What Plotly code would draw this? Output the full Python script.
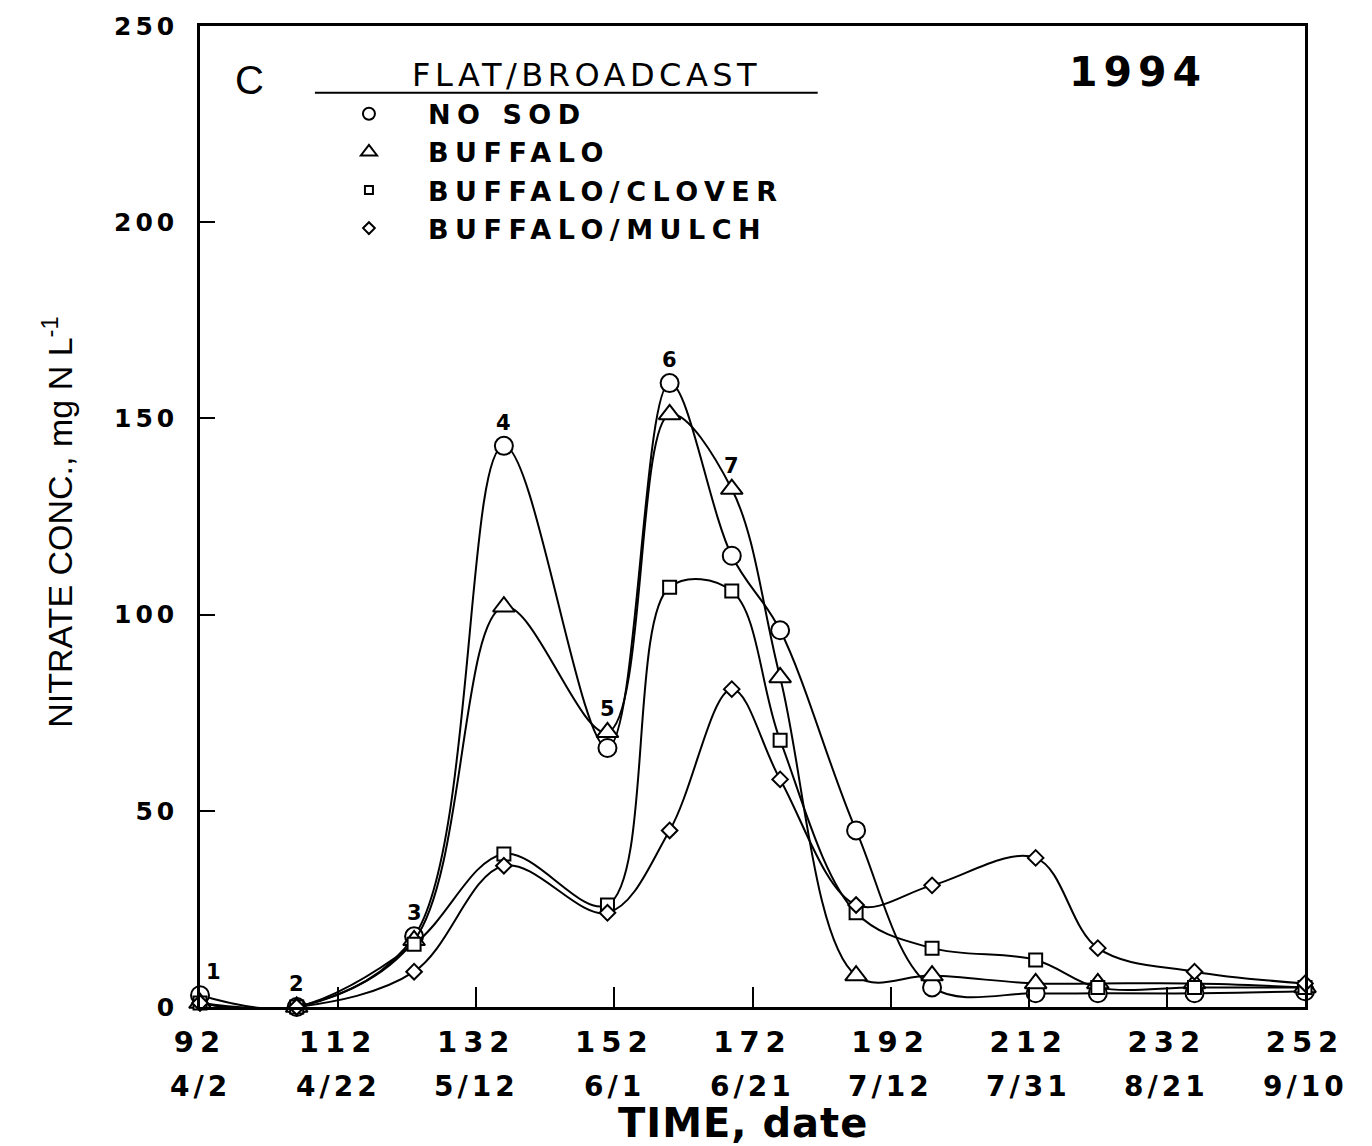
import plotly.graph_objects as go

# ---------------- data ----------------
days = [92, 106, 123, 136, 151, 160, 169, 176, 187, 198, 213, 222, 236, 252]
no_sod = [3, 0, 18, 143, 66, 159, 115, 96, 45, 5, 3.5, 3.5, 3.5, 4]
buffalo = [1, 0, 17, 102, 70, 151, 132, 84, 8, 8, 6, 6, 6, 5]
buffalo_clover = [1, 0, 16, 39, 26, 107, 106, 68, 24, 15, 12, 5, 5, 5]
buffalo_mulch = [1, 0, 9, 36, 24, 45, 81, 58, 26, 31, 38, 15, 9, 6]
series_names = ["NO SOD", "BUFFALO", "BUFFALO/CLOVER", "BUFFALO/MULCH"]
sample_labels = ["1", "2", "3", "4", "5", "6", "7"]

x_tick_vals = [92, 112, 132, 152, 172, 192, 212, 232, 252]
x_tick_text = ["92", "112", "132", "152", "172", "192", "212", "232", "252"]
date_text = ["4/2", "4/22", "5/12", "6/1", "6/21", "7/12", "7/31", "8/21", "9/10"]
y_tick_vals = [0, 50, 100, 150, 200, 250]
y_tick_text = ["0", "50", "100", "150", "200", "250"]

# ---------------- styles ----------------
series_values = [no_sod, buffalo, buffalo_clover, buffalo_mulch]
symbols = ["circle", "triangle-up", "square", "diamond"]
plot_sizes = [18, 19, 13, 12]
legend_sizes = [12, 14, 8, 9]

BOLD = "DejaVu Sans"


def spaced(t, px):
    return f'<span style="letter-spacing:{px}px">{t}</span>'


fig = go.Figure()

for vals, sym, sz in zip(series_values, symbols, plot_sizes):
    fig.add_trace(go.Scatter(
        x=days, y=vals, mode="lines+markers",
        line=dict(color="black", width=2, shape="spline", smoothing=1.0),
        marker=dict(symbol=sym, size=sz, color="white",
                    line=dict(color="black", width=2)),
        showlegend=False, cliponaxis=False,
    ))

# legend-only entries (marker only, like the original key)
for name, sym, sz in zip(series_names, symbols, legend_sizes):
    fig.add_trace(go.Scatter(
        x=[None], y=[None], mode="markers", name=spaced(name, 6.5),
        marker=dict(symbol=sym, size=sz, color="white",
                    line=dict(color="black", width=2)),
        showlegend=True,
    ))

# sample-number labels above the highest point of each early sampling
for i, lab in enumerate(sample_labels):
    top = max(s[i] for s in series_values)
    fig.add_annotation(
        x=days[i], y=top, text=lab, showarrow=False,
        xshift=13 if i == 0 else 0, yshift=23,
        font=dict(family=BOLD, size=21, color="black", weight="bold"),
    )

# second row of x labels (calendar dates)
for d, t in zip(x_tick_vals, date_text):
    fig.add_annotation(
        x=d, y=-0.0814, xref="x", yref="paper", text=spaced(t, 4),
        showarrow=False, xanchor="center", yanchor="middle",
        font=dict(family=BOLD, size=28, color="black", weight="bold"),
    )

# axis titles
fig.add_annotation(
    x=-0.129, y=0.495, xref="paper", yref="paper",
    text="NITRATE CONC., mg N L<sup>-1</sup>", textangle=-90,
    showarrow=False, xanchor="center", yanchor="middle",
    font=dict(family="Liberation Sans", size=34, color="black"),
)
fig.add_annotation(
    x=0.491, y=-0.118, xref="paper", yref="paper",
    text=spaced("TIME, date", 1), showarrow=False,
    xanchor="center", yanchor="middle",
    font=dict(family=BOLD, size=40, color="black", weight="bold"),
)

# panel texts
fig.add_annotation(
    x=0.045, y=0.945, xref="paper", yref="paper", text="C",
    showarrow=False, xanchor="center", yanchor="middle",
    font=dict(family="Liberation Sans", size=40, color="black"),
)
fig.add_annotation(
    x=0.849, y=0.953, xref="paper", yref="paper", text=spaced("1994", 6),
    showarrow=False, xanchor="center", yanchor="middle",
    font=dict(family=BOLD, size=41, color="black", weight="bold"),
)
fig.add_annotation(
    x=0.350, y=0.950, xref="paper", yref="paper",
    text=spaced("FLAT/BROADCAST", 4.5),
    showarrow=False, xanchor="center", yanchor="middle",
    font=dict(family="DejaVu Sans", size=32, color="black"),
)
fig.add_shape(type="line", xref="paper", yref="paper",
              x0=0.104, x1=0.559, y0=0.932, y1=0.932,
              line=dict(color="black", width=2))

fig.update_layout(
    width=1372, height=1146,
    margin=dict(l=200, r=67, t=24, b=139, pad=0),
    paper_bgcolor="white", plot_bgcolor="white",
    showlegend=True,
    legend=dict(
        x=0.0995, y=0.935, xanchor="left", yanchor="top",
        bgcolor="rgba(0,0,0,0)", borderwidth=0,
        itemwidth=108, itemsizing="trace",
        font=dict(family=BOLD, size=27, color="black", weight="bold"),
        traceorder="normal",
    ),
    xaxis=dict(
        range=[92, 252], tickmode="array", tickvals=x_tick_vals,
        ticktext=[spaced(t, 6) for t in x_tick_text],
        ticks="inside", ticklen=20, tickwidth=2, tickcolor="black",
        showline=True, linecolor="black", linewidth=2.5, mirror=True,
        showgrid=False, zeroline=False, ticklabelstandoff=7,
        tickfont=dict(family=BOLD, size=29, color="black", weight="bold"),
    ),
    yaxis=dict(
        range=[0, 250], tickmode="array", tickvals=y_tick_vals,
        ticktext=[spaced(t, 4) for t in y_tick_text],
        ticks="inside", ticklen=15, tickwidth=2, tickcolor="black",
        showline=True, linecolor="black", linewidth=2.5, mirror=True,
        showgrid=False, zeroline=False, ticklabelstandoff=14,
        tickfont=dict(family=BOLD, size=25, color="black", weight="bold"),
    ),
)

fig.write_html("out.html", config={"displayModeBar": False},
               post_script="document.body.style.margin='0';document.body.style.overflow='hidden';")
